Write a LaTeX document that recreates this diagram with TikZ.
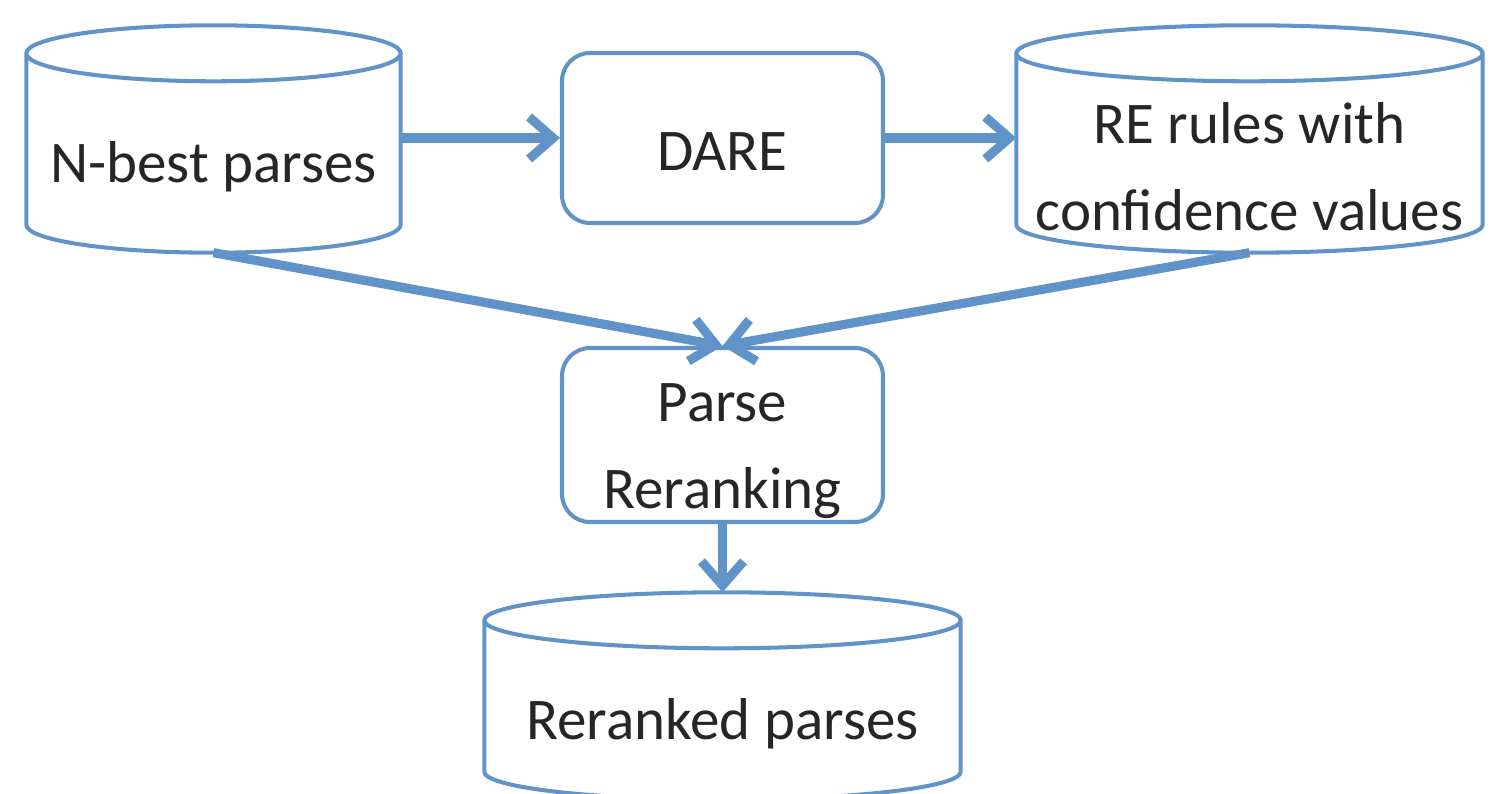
\documentclass[tikz,border=0pt]{standalone}
\usepackage{fontspec}
\setmainfont{Carlito}
\usetikzlibrary{calc,arrows.meta}
\definecolor{flowblue}{RGB}{96,148,200}
\def\ry{0.28}

\begin{document}
\begin{tikzpicture}[
  font=\fontsize{16.8}{24.8}\selectfont,
  every node/.style={text=black!85, align=center, inner sep=0pt},
  store/.style={minimum height=1.70cm},
  cyl/.style={draw=flowblue, line width=1.15pt},
  procbox/.style={draw=flowblue, line width=1.15pt, rounded corners=0.28cm, minimum width=3.21cm},
  link/.style={draw=flowblue, line width=2.6pt, -{Straight Barb[length=0.24cm,width=0.42cm]}}]
  \useasboundingbox (0,0) rectangle (14.90,7.93);
    \node[store,minimum width=3.73cm] (nbest) at (2.135,6.26) {N-best parses};
    \node[procbox,minimum height=1.70cm,text height=0.64cm] (dare) at (7.225,6.55) {DARE};
    \node[store,minimum width=4.65cm] (rules) at (12.495,6.26) {RE rules with\\confidence values};
    \node[procbox,minimum height=1.74cm] (parse) at (7.225,3.58) {\rule{0pt}{0.70cm}Parse\\Reranking};
    \node[store,minimum width=4.75cm,minimum height=1.50cm] (reranked) at (7.225,0.69) {Reranked parses};
    % cylinders round the stores
    \foreach \c in {nbest,rules,reranked}
      \draw[cyl] let \p1=(\c.north west), \p2=(\c.south east), \n1={(\x2-\x1)/2} in
        ([yshift=\ry cm]\c.north west) -- ([yshift=\ry cm]\c.south west)
        arc[start angle=180,end angle=360,x radius=\n1,y radius=\ry cm]
        -- ([yshift=\ry cm]\c.north east)
        ([yshift=\ry cm]\c.north) ellipse[x radius=\n1,y radius=\ry cm];
    \draw[link] (nbest.east |- dare.west) -- (dare.west);
    \draw[link] (dare.east) -- (dare.east -| rules.west);
    \draw[link] (nbest.south) -- (parse.north);
    \draw[link] (rules.south) -- (parse.north);
    \draw[link] (parse.south) -- ([yshift=2*\ry cm]reranked.north);
\end{tikzpicture}
\end{document}
